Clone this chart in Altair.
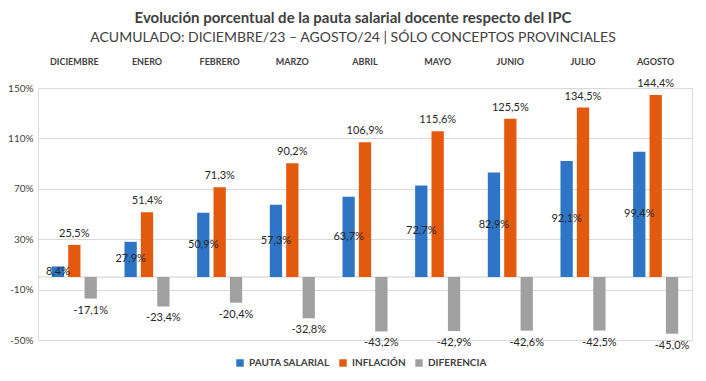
import altair as alt
import pandas as pd

meses = ["DICIEMBRE", "ENERO", "FEBRERO", "MARZO", "ABRIL", "MAYO", "JUNIO", "JULIO", "AGOSTO"]
series = ["PAUTA SALARIAL", "INFLACIÓN", "DIFERENCIA"]
pauta = [8.4, 27.9, 50.9, 57.3, 63.7, 72.7, 82.9, 92.1, 99.4]
inflacion = [25.5, 51.4, 71.3, 90.2, 106.9, 115.6, 125.5, 134.5, 144.4]
diferencia = [-17.1, -23.4, -20.4, -32.8, -43.2, -42.9, -42.6, -42.5, -45.0]
y_ticks = [-50, -10, 30, 70, 110, 150]
colores = ["#2E75C6", "#E35A0E", "#A0A0A0"]

rows = []
for s, vals in zip(series, [pauta, inflacion, diferencia]):
    for m, v in zip(meses, vals):
        rows.append({"mes": m, "serie": s, "v": v,
                     "lab": f"{v:.1f}".replace(".", ",") + "%"})
df = pd.DataFrame(rows)

FONT = "Lato"

x_enc = alt.X("mes:N", sort=meses,
              scale=alt.Scale(paddingInner=0.38, paddingOuter=0.19),
              axis=alt.Axis(orient="top", title=None, labelAngle=0, domain=False,
                            ticks=False, labelFontWeight="bold", labelFontSize=9,
                            labelColor="#404040", labelPadding=22, labelFont=FONT))
xo_enc = alt.XOffset("serie:N", sort=series,
                     scale=alt.Scale(domain=series, paddingInner=0.25, paddingOuter=0))
y_scale = alt.Scale(domain=[-50, 150], nice=False, zero=False)

base = alt.Chart(df)

bars = base.mark_bar().encode(
    x=x_enc,
    xOffset=xo_enc,
    y=alt.Y("v:Q", scale=y_scale,
            axis=alt.Axis(title=None, values=y_ticks, labelExpr="datum.value + '%'",
                          domain=False, ticks=False, grid=True, gridColor="#D9D9D9",
                          labelFontSize=10, labelColor="#404040", labelPadding=5,
                          labelFont=FONT)),
    color=alt.Color("serie:N", sort=series,
                    scale=alt.Scale(domain=series, range=colores),
                    legend=alt.Legend(title=None, orient="none", direction="horizontal",
                                      legendX=197, legendY=270, symbolType="square",
                                      symbolSize=56, symbolStrokeWidth=0,
                                      labelFontSize=10, labelFontWeight="bold",
                                      labelColor="#404040", labelFont=FONT,
                                      columnPadding=8, labelOffset=4)),
)

zero = alt.Chart(pd.DataFrame({"z": [0]})).mark_rule(color="#D0D0D0", strokeWidth=1).encode(
    y=alt.Y("z:Q", scale=y_scale)
)

txt_kw = dict(fontSize=11, color="#262626", font=FONT)

lab_pauta = base.transform_filter(alt.datum.serie == "PAUTA SALARIAL").transform_calculate(
    yc="datum.v / 2").mark_text(baseline="middle", **txt_kw).encode(
    x=x_enc, xOffset=xo_enc, y=alt.Y("yc:Q", scale=y_scale), text="lab:N")

lab_inf = base.transform_filter(alt.datum.serie == "INFLACIÓN").mark_text(
    baseline="middle", dy=-11, **txt_kw).encode(
    x=x_enc, xOffset=xo_enc, y=alt.Y("v:Q", scale=y_scale), text="lab:N")

lab_dif = base.transform_filter(alt.datum.serie == "DIFERENCIA").mark_text(
    baseline="middle", dy=12, **txt_kw).encode(
    x=x_enc, xOffset=xo_enc, y=alt.Y("v:Q", scale=y_scale), text="lab:N")

chart = alt.layer(zero, bars, lab_pauta, lab_inf, lab_dif).properties(
    width=654, height=252,
    autosize=alt.AutoSizeParams(type="none"),
    padding={"left": 30, "top": 80, "right": 6, "bottom": 33},
    title=alt.Title(
        "Evolución porcentual de la pauta salarial docente respecto del IPC",
        subtitle="ACUMULADO: DICIEMBRE/23 – AGOSTO/24 | SÓLO CONCEPTOS PROVINCIALES",
        font=FONT, fontSize=15, fontWeight="bold", color="#404040",
        subtitleFont=FONT, subtitleFontSize=14, subtitleColor="#404040",
        subtitlePadding=5, anchor="middle", dx=-12, offset=12),
).configure_view(stroke=None).configure(background="white")

chart.save("out.html", embed_options={"renderer": "svg", "actions": False})
